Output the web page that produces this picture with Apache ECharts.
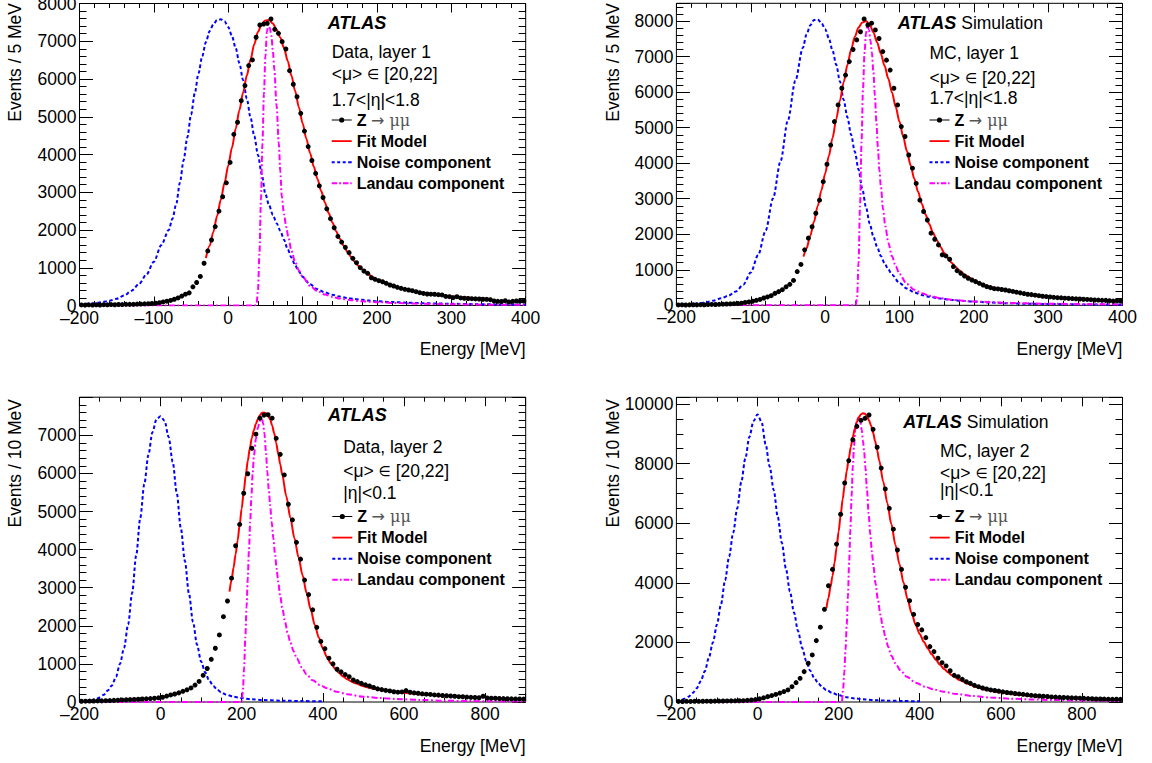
<!DOCTYPE html>
<html>
<head>
<meta charset="utf-8">
<script src="https://cdn.jsdelivr.net/npm/echarts@6.0.0/dist/echarts.min.js"></script>
<style>html,body{margin:0;padding:0;background:#fff}#chart{width:1152px;height:763px}</style>
</head>
<body>
<div id="chart"></div>
<script>
// ===================== DATA =====================
// Legend entries
const legendNames = ['Z → μμ', 'Fit Model', 'Noise component', 'Landau component'];

// ---- Panel 1: Data, layer 1 (Events / 5 MeV, bins from -200 MeV) ----
const d1BinLow = -200, d1BinWidth = 5;
const d1Counts = [
  15,10,18,12,20,14,22,18,24,20,
  26,24,30,30,32,36,38,44,48,55,
  60,75,95,115,135,165,200,250,300,335,
  495,610,770,1120,1445,1735,2090,2500,2880,3250,
  3790,4535,4855,5425,5825,6355,6505,7105,7430,7455,
  7475,7590,7315,7210,6990,6795,6220,5860,5530,5090,
  4620,4210,3840,3500,3170,2860,2560,2300,2060,1830,
  1680,1540,1400,1250,1134,1002,914,853,736,694,
  657,630,588,543,516,482,455,429,411,392,
  366,339,320,305,300,297,286,280,240,233,
  207,233,200,191,185,180,175,172,165,164,
  154,119,111,105,127,93,110,119,115,119
];
const d1FitE = [-30,-25,-20,-15,-10,-5,0,5,10,15,20,25,30,35,40,45,50,55,60,65,70,75,80,85,90,95,100,105,110,115,120,125,130,135,140,145,150,155,160,165,170,175,180,185,190,195,200,210,220,230,240,250,260,270,280,290,300,310,320,330,340,352];
const d1FitY = [1260,1580,1950,2370,2800,3250,3700,4180,4680,5170,5640,6090,6520,6920,7250,7460,7550,7560,7470,7310,7100,6820,6480,6090,5680,5250,4830,4420,4040,3680,3350,3030,2730,2450,2200,1970,1770,1590,1430,1290,1165,1055,960,880,808,745,690,600,528,468,418,375,340,310,285,262,242,225,210,196,184,172];
const d1NoiseE = [-200,-190,-180,-170,-160,-150,-140,-130,-120,-110,-100,-90,-80,-75,-70,-65,-60,-55,-50,-45,-40,-35,-30,-25,-20,-15,-10,-5,0,5,10,15,20,25,30,35,40,45,50,55,60,65,70,75,80,85,90,95,100,110,120,130,140,150,160,170,180,190,200,220,240,260,280,300,330,360,400];
const d1NoiseY = [32,45,62,88,125,180,265,390,570,820,1160,1600,2000,2300,2680,3250,3850,4450,5050,5620,6150,6600,6980,7270,7450,7560,7580,7530,7380,7140,6820,6420,5970,5480,4980,4490,3990,3480,2950,2650,2400,2180,1980,1740,1490,1270,1060,900,760,560,430,345,285,237,200,172,150,130,114,92,75,62,53,45,36,29,22];
const d1LandauE = [-200,36,38,40,42,44,46,48,50,52,54,56,58,60,62,65,68,70,72,75,78,81,85,90,95,100,110,120,130,140,150,165,180,200,230,260,300,350,400];
const d1LandauY = [0,0,30,400,1400,2800,4300,5600,6600,7250,7450,7350,7150,6750,6250,5300,4300,3550,2900,2420,2080,1790,1450,1150,930,760,520,380,290,228,185,140,112,88,63,45,32,22,16];

// ---- Panel 2: MC, layer 1 (Events / 5 MeV) ----
const m1BinLow = -200, m1BinWidth = 5;
const m1Counts = [
  10,14,8,12,15,12,18,16,20,24,
  22,28,32,36,40,45,50,58,80,95,
  115,140,165,205,235,270,335,385,440,520,
  590,700,950,1150,1560,1890,2210,2590,2960,3480,
  3970,4510,5170,5640,6110,6480,6860,7200,7470,7700,
  8060,7890,7940,7750,7510,7140,6900,6620,6110,5640,
  5030,4750,4230,3860,3430,2960,2640,2400,2030,1860,
  1700,1420,1390,1295,1090,975,900,825,760,713,
  666,619,572,525,497,469,460,445,430,410,
  390,370,350,330,310,300,285,270,255,245,
  235,225,215,210,200,195,190,182,178,170,
  165,158,150,148,140,138,130,118,125,120
];
const m1FitE = [-29,-25,-20,-15,-10,-5,0,5,10,15,20,25,30,35,40,45,50,55,60,65,70,75,80,85,90,95,100,105,110,115,120,125,130,135,140,145,150,155,160,165,170,175,180,190,200,210,220,230,240,250,260,270,280,290,300,310,320,330,340,350];
const m1FitY = [1370,1600,1950,2350,2790,3230,3700,4200,4710,5240,5770,6280,6760,7200,7560,7820,7960,8000,7900,7680,7400,7080,6740,6380,5990,5580,5170,4750,4340,3940,3560,3200,2860,2560,2290,2050,1840,1650,1480,1330,1200,1090,990,830,710,610,535,475,440,395,355,320,290,263,240,222,207,194,182,172];
const m1NoiseE = [-200,-190,-180,-170,-160,-150,-140,-130,-120,-110,-100,-90,-80,-70,-60,-50,-40,-30,-25,-20,-15,-10,-5,0,5,10,15,20,25,30,35,40,45,50,55,60,65,70,75,80,85,90,100,110,120,130,140,155,170,185,200,220,245,270,300,350,400];
const m1NoiseY = [15,22,32,52,85,130,195,270,390,580,920,1420,2100,3010,4050,5210,6320,7240,7620,7880,8030,8050,7950,7780,7520,7170,6770,6300,5780,5290,4800,4320,3820,3280,2760,2300,1930,1640,1390,1180,1010,860,630,470,365,290,240,190,150,125,103,80,58,45,35,25,18];
const m1LandauE = [-200,41,43,45,47,49,51,53,55,57,59,61,63,65,67,69,71,73,75,78,81,85,90,95,100,110,120,130,140,155,170,200,250,300,350,400];
const m1LandauY = [0,0,200,1200,2800,4600,6100,7100,7650,7880,7750,7450,7100,6550,5900,5150,4450,3800,3350,2700,2230,1760,1380,1100,880,600,440,340,270,200,155,105,65,45,32,24];

// ---- Panel 3: Data, layer 2 (Events / 10 MeV) ----
const d2BinLow = -200, d2BinWidth = 10;
const d2Counts = [
  20,22,25,26,28,30,34,38,42,48,
  55,58,62,66,72,78,84,90,98,110,
  125,155,185,210,240,280,320,370,445,540,
  700,880,1120,1410,1760,2240,2650,3250,4100,4660,
  5480,5990,6660,7030,7450,7530,7540,7450,6920,6500,
  5960,5190,4780,4190,3750,3200,2820,2420,1960,1590,
  1400,1150,1000,860,790,720,665,580,535,490,
  450,420,380,345,325,305,290,270,258,265,
  300,255,240,230,215,205,198,185,180,170,
  165,158,150,140,138,130,122,118,112,150,
  105,100,98,92,88,85,82,78,80,75
];
const d2FitE = [170,175,180,185,190,195,200,205,210,215,220,225,230,235,240,245,250,255,260,265,270,275,280,285,290,295,300,310,320,330,340,350,360,370,380,390,400,410,420,430,440,450,460,470,480,500,520,540,560,580,600,625,650,675,700,725,750];
const d2FitY = [2900,3200,3530,3880,4240,4650,5080,5520,5950,6330,6660,6930,7130,7300,7430,7530,7590,7600,7580,7520,7420,7260,7060,6800,6520,6240,5960,5400,4830,4300,3800,3330,2860,2430,2030,1690,1410,1180,1010,880,760,670,598,540,492,415,362,320,288,262,240,215,196,180,166,152,140];
const d2NoiseE = [-200,-190,-180,-170,-160,-150,-140,-130,-120,-110,-100,-90,-80,-70,-60,-50,-40,-30,-20,-10,0,10,20,30,40,50,60,70,80,90,100,110,120,130,140,150,160,180,200,225,250,300,350,400];
const d2NoiseY = [12,20,32,50,75,120,190,300,430,660,1000,1420,2030,2860,3850,4830,5720,6480,7080,7420,7500,7380,6950,6300,5480,4560,3700,2850,2100,1500,1060,780,560,420,320,250,200,140,100,70,52,35,24,17];
const d2LandauE = [-200,200,203,206,209,212,215,218,221,224,227,230,235,240,245,250,253,256,260,263,267,270,274,278,282,286,290,295,300,307,313,320,328,336,348,360,375,393,410,434,460,500,540,582,640,700,760,820,900];
const d2LandauY = [0,0,300,900,1700,2500,3250,4000,4730,5400,5980,6450,6900,7200,7380,7430,7300,7050,6550,6050,5550,5170,4720,4300,3900,3510,3150,2780,2470,2100,1820,1560,1330,1140,910,720,570,446,360,271,205,140,105,79,55,35,24,17,12];

// ---- Panel 4: MC, layer 2 (Events / 10 MeV) ----
const m2BinLow = -200, m2BinWidth = 10;
const m2Counts = [
  20,18,22,20,24,22,25,28,26,30,
  32,34,36,38,40,42,45,55,67,80,
  105,140,180,215,255,300,350,405,515,650,
  795,1020,1300,1580,2060,2510,3110,3900,4450,5300,
  6300,7350,8100,8800,9250,9450,9520,9630,9150,8550,
  7850,7150,6500,5800,5100,4450,3850,3400,2940,2600,
  2420,2160,1860,1690,1470,1320,1210,1050,895,850,
  760,680,625,560,515,470,435,405,385,365,
  340,320,305,285,270,258,240,225,210,200,
  192,185,170,165,158,150,145,138,134,128,
  123,115,110,102,100,98,94,90,92,88
];
const m2FitE = [170,175,180,185,190,195,200,205,210,215,220,225,230,235,240,245,250,255,260,265,270,275,280,285,290,295,300,310,320,330,340,350,360,370,380,390,400,410,420,430,440,450,460,470,480,500,520,540,560,580,600,625,650,675,700,725,750];
const m2FitY = [3150,3500,3860,4240,4680,5180,5720,6270,6800,7300,7750,8170,8560,8900,9180,9400,9560,9650,9690,9670,9590,9450,9270,9040,8760,8450,8110,7400,6680,5970,5280,4630,4010,3450,2980,2590,2280,2020,1790,1590,1410,1250,1110,990,890,730,600,500,420,360,315,270,232,200,175,155,138];
const m2NoiseE = [-200,-190,-180,-170,-160,-150,-140,-130,-120,-110,-100,-90,-80,-70,-60,-50,-40,-30,-20,-10,0,10,20,30,40,50,60,70,80,90,100,110,120,130,140,150,160,170,185,200,220,240,260,290,320,360,400];
const m2NoiseY = [25,55,110,180,300,460,700,1030,1480,2000,2600,3280,4080,4880,5680,6500,7380,8180,8900,9420,9650,9400,8650,7900,7110,6210,5340,4480,3710,3000,2380,1820,1380,1050,800,620,490,400,300,225,160,120,90,62,45,32,22];
const m2LandauE = [-200,208,211,214,217,220,223,226,229,232,235,238,241,245,249,253,257,260,263,266,270,274,278,282,286,291,297,303,309,316,322,330,340,352,368,390,413,435,458,490,530,575,621,675,730,800,893];
const m2LandauY = [0,0,400,1000,1750,2600,3560,4700,5800,6900,7900,8600,9130,9450,9540,9450,9130,8770,8400,7880,7100,6320,5630,5050,4540,3980,3420,2930,2520,2150,1860,1560,1300,1070,850,650,515,420,347,270,201,150,112,85,67,50,34];

// Panel text
const panelTags = [
  {atlas: 'ATLAS', sim: false, info: ['Data, layer 1', '<μ> ∈ [20,22]', '1.7<|η|<1.8'], yTitle: 'Events / 5 MeV'},
  {atlas: 'ATLAS', sim: true,  info: ['MC, layer 1', '<μ> ∈ [20,22]', '1.7<|η|<1.8'], yTitle: 'Events / 5 MeV'},
  {atlas: 'ATLAS', sim: false, info: ['Data, layer 2', '<μ> ∈ [20,22]', '|η|<0.1'], yTitle: 'Events / 10 MeV'},
  {atlas: 'ATLAS', sim: true,  info: ['MC, layer 2', '<μ> ∈ [20,22]', '|η|<0.1'], yTitle: 'Events / 10 MeV'}
];
const xTitle = 'Energy [MeV]';

// ===================== LAYOUT / STYLE =====================
const FONT = "'Liberation Sans', Arial, Helvetica, sans-serif";
const SYMFONT = "'DejaVu Sans', 'Liberation Sans', sans-serif";
const layout = [
  {grid: {left: 79.5, top: 3.5, width: 446.2, height: 302},
   x: {min: -200, max: 400, major: 100, minor: 20},
   y: {max: 8000, major: 1000, minor: 200, labelMax: 8000},
   atlasPos: [327.7, 23], infoX: 331.7, infoY: [51.5, 74, 100], legendPos: [331.7, 112],
   yTitlePos: [15, 3], xTitlePos: [525.7, 349.3]},
  {grid: {left: 676.4, top: 3.3, width: 446.1, height: 302},
   x: {min: -200, max: 400, major: 100, minor: 20},
   y: {max: 8500, major: 1000, minor: 200, labelMax: 8000},
   atlasPos: [897.7, 23.3], infoX: 929.5, infoY: [52.5, 77.5, 98], legendPos: [929.5, 112],
   yTitlePos: [612.8, 3], xTitlePos: [1122.5, 349.3]},
  {grid: {left: 79.4, top: 397.2, width: 446.3, height: 304.8},
   x: {min: -200, max: 900, major: 200, minor: 50},
   y: {max: 8000, major: 1000, minor: 200, labelMax: 7000},
   atlasPos: [328, 415], infoX: 343.2, infoY: [446.7, 471, 492.5], legendPos: [332.3, 508.5],
   yTitlePos: [14.7, 399], xTitlePos: [525.7, 745.7]},
  {grid: {left: 676.4, top: 397.3, width: 446.1, height: 304.7},
   x: {min: -200, max: 900, major: 200, minor: 50},
   y: {max: 10225, major: 2000, minor: 500, labelMax: 10000},
   atlasPos: [903.2, 422.3], infoX: 940, infoY: [450.7, 472.7, 490], legendPos: [929.7, 508.5],
   yTitlePos: [612.8, 399], xTitlePos: [1122.5, 745.7]}
];

// legend icons (20 x 10 boxes): marker+line, solid line, dashed line, dash-dot line
const iconData = 'path://M0,4.5L20,4.5L20,5.5L0,5.5Z M12.6,5A2.6,2.6,0,1,1,7.4,5A2.6,2.6,0,1,1,12.6,5Z';
const iconFit = 'path://M0,4.1L20,4.1L20,5.9L0,5.9Z';
const iconNoise = 'path://M0,4L3,4L3,6L0,6Z M5.5,4L8.5,4L8.5,6L5.5,6Z M11,4L14,4L14,6L11,6Z M16.5,4L20,4L20,6L16.5,6Z';
const iconLandau = 'path://M0,4L5.5,4L5.5,6L0,6Z M7.5,4L9.3,4L9.3,6L7.5,6Z M11.3,4L16.8,4L16.8,6L11.3,6Z M18.6,4L20,4L20,6L18.6,6Z';

const panelData = [
  {low: d1BinLow, w: d1BinWidth, counts: d1Counts, fitE: d1FitE, fitY: d1FitY, nE: d1NoiseE, nY: d1NoiseY, lE: d1LandauE, lY: d1LandauY},
  {low: m1BinLow, w: m1BinWidth, counts: m1Counts, fitE: m1FitE, fitY: m1FitY, nE: m1NoiseE, nY: m1NoiseY, lE: m1LandauE, lY: m1LandauY},
  {low: d2BinLow, w: d2BinWidth, counts: d2Counts, fitE: d2FitE, fitY: d2FitY, nE: d2NoiseE, nY: d2NoiseY, lE: d2LandauE, lY: d2LandauY},
  {low: m2BinLow, w: m2BinWidth, counts: m2Counts, fitE: m2FitE, fitY: m2FitY, nE: m2NoiseE, nY: m2NoiseY, lE: m2LandauE, lY: m2LandauY}
];

// ===================== BUILD OPTION =====================
const fmt = v => (v < 0 ? '\u2013' + Math.abs(v) : String(v));
const pairs = (xs, ys) => xs.map((x, i) => [x, ys[i]]);
const binned = (low, w, counts) => counts.map((c, i) => [low + w * (i + 0.5), c]);
// info line: the "∈" sign is drawn a little smaller, as in the reference
const infoRich = s => s.indexOf('∈') >= 0 ? s.replace('∈', '{e|∈}') : s;

const grids = [], xAxes = [], yAxes = [], series = [], legends = [], graphics = [];

layout.forEach((L, g) => {
  grids.push(Object.assign({show: true, borderColor: '#000', borderWidth: 1, backgroundColor: 'transparent',
    containLabel: false, outerBoundsMode: 'none'}, L.grid));

  const tick = (len) => ({show: true, inside: true, length: len, lineStyle: {color: '#000', width: 1}});
  [['bottom', false], ['bottom', true], ['top', false], ['top', true]].forEach(([pos, minor]) => {
    xAxes.push({
      type: 'value', gridIndex: g, position: pos, min: L.x.min, max: L.x.max,
      interval: minor ? L.x.minor : L.x.major, silent: true,
      axisLine: {show: false, onZero: false},
      axisTick: tick(minor ? 4.5 : 9),
      minorTick: {show: false}, splitLine: {show: false},
      axisLabel: {show: pos === 'bottom' && !minor, margin: 3, color: '#000', fontSize: 17.5, fontFamily: FONT,
        formatter: v => (v % L.x.major === 0 ? fmt(v) : '')}
    });
  });
  [['left', false], ['left', true], ['right', false], ['right', true]].forEach(([pos, minor]) => {
    yAxes.push({
      type: 'value', gridIndex: g, position: pos, min: 0, max: L.y.max,
      interval: minor ? L.y.minor : L.y.major, silent: true,
      axisLine: {show: false, onZero: false},
      axisTick: tick(minor ? 7 : 13.5),
      minorTick: {show: false}, splitLine: {show: false},
      axisLabel: {show: pos === 'left' && !minor, margin: 3, color: '#000', fontSize: 17.5, fontFamily: FONT,
        formatter: v => (v % L.y.major === 0 && v <= L.y.labelMax ? fmt(v) : '')}
    });
  });

  const D = panelData[g];
  const ax = {xAxisIndex: 4 * g, yAxisIndex: 4 * g};
  series.push(Object.assign({type: 'line', name: legendNames[2], data: pairs(D.nE, D.nY), symbol: 'none', showSymbol: false,
    smooth: 0.3, smoothMonotone: 'x', lineStyle: {color: '#0000ff', width: 2, type: [3.5, 2.5]}, itemStyle: {color: '#0000ff'}, z: 2}, ax));
  series.push(Object.assign({type: 'line', name: legendNames[3], data: pairs(D.lE, D.lY), symbol: 'none', showSymbol: false,
    smooth: 0.3, smoothMonotone: 'x', lineStyle: {color: '#ff00ff', width: 2, type: [6, 2.5, 1.8, 2.5]}, itemStyle: {color: '#ff00ff'}, z: 2}, ax));
  series.push(Object.assign({type: 'line', name: legendNames[1], data: pairs(D.fitE, D.fitY), symbol: 'none', showSymbol: false,
    smooth: 0.3, smoothMonotone: 'x', lineStyle: {color: '#ff0000', width: 2}, itemStyle: {color: '#ff0000'}, z: 3}, ax));
  series.push(Object.assign({type: 'scatter', name: legendNames[0], data: binned(D.low, D.w, D.counts), symbol: 'circle',
    symbolSize: 5, itemStyle: {color: '#000', opacity: 1}, z: 4}, ax));

  legends.push({
    left: L.legendPos[0], top: L.legendPos[1], orient: 'vertical', padding: 0,
    itemWidth: 20, itemHeight: 10, itemGap: 5.1, selectedMode: false, symbolKeepAspect: true,
    data: [
      {name: legendNames[0], icon: iconData, itemStyle: {color: '#000'}},
      {name: legendNames[1], icon: iconFit, itemStyle: {color: '#ff0000'}},
      {name: legendNames[2], icon: iconNoise, itemStyle: {color: '#0000ff'}},
      {name: legendNames[3], icon: iconLandau, itemStyle: {color: '#ff00ff'}}
    ],
    formatter: n => (n === legendNames[0] ? '{z|Z} {s|→}{m| μμ}' : '{t|' + n + '}'),
    textStyle: {fontSize: 16, fontWeight: 'bold', color: '#000', fontFamily: FONT, lineHeight: 16,
      rich: {
        z: {fontSize: 16, fontWeight: 'bold', color: '#000', fontFamily: FONT, lineHeight: 16},
        s: {fontSize: 16, fontWeight: 'normal', color: '#555', fontFamily: SYMFONT, lineHeight: 16},
        m: {fontSize: 16, fontWeight: 'normal', color: '#555', fontFamily: "'DejaVu Serif', serif", lineHeight: 16},
        t: {fontSize: 16, fontWeight: 'bold', color: '#000', fontFamily: FONT, lineHeight: 16}
      }}
  });

  const T = panelTags[g];
  graphics.push({type: 'text', x: L.atlasPos[0], y: L.atlasPos[1], silent: true,
    style: {text: T.sim ? '{a|' + T.atlas + '}{b| Simulation}' : '{a|' + T.atlas + '}', verticalAlign: 'middle', align: 'left',
      rich: {a: {fontSize: 18, fontWeight: 'bold', fontStyle: 'italic', fontFamily: FONT, fill: '#000'},
             b: {fontSize: 17.5, fontFamily: FONT, fill: '#000'}}}});
  T.info.forEach((s, i) => graphics.push({type: 'text', x: L.infoX, y: L.infoY[i], silent: true,
    style: {text: infoRich(s), fontSize: 17.5, fontFamily: FONT, fill: '#000', align: 'left', verticalAlign: 'middle',
      rich: {e: {fontSize: 14, fontFamily: SYMFONT, fill: '#000'}}}}));
  graphics.push({type: 'text', x: L.yTitlePos[0], y: L.yTitlePos[1], rotation: Math.PI / 2, silent: true,
    style: {text: T.yTitle, fontSize: 17.5, fontFamily: FONT, fill: '#000', align: 'right', verticalAlign: 'middle'}});
  graphics.push({type: 'text', x: L.xTitlePos[0], y: L.xTitlePos[1], silent: true,
    style: {text: xTitle, fontSize: 17.5, fontFamily: FONT, fill: '#000', align: 'right', verticalAlign: 'middle'}});
});

const chart = echarts.init(document.getElementById('chart'), null, {renderer: 'svg'});
chart.setOption({
  animation: false,
  backgroundColor: '#fff',
  textStyle: {fontFamily: FONT},
  grid: grids, xAxis: xAxes, yAxis: yAxes, series: series, legend: legends, graphic: graphics
});
</script>
</body>
</html>
